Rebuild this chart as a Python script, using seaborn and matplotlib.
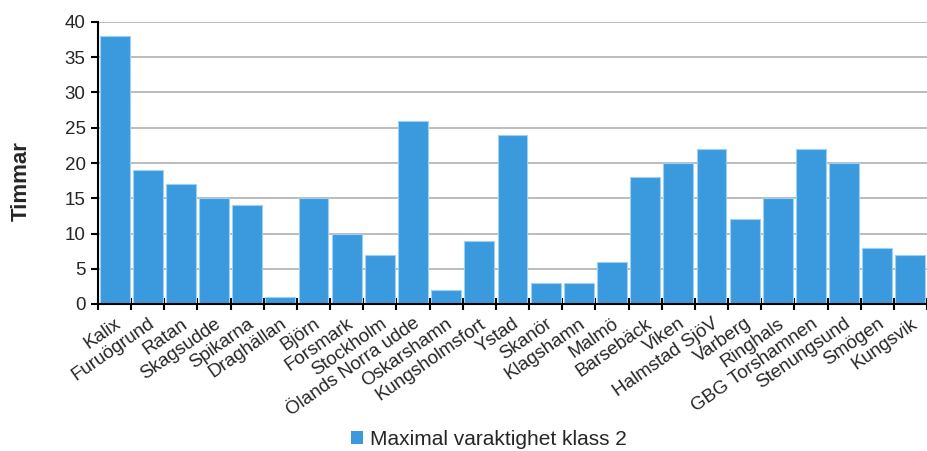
import matplotlib
matplotlib.use("Agg")
import matplotlib.pyplot as plt
import seaborn as sns
import pandas as pd
import numpy as np
from matplotlib.patches import Patch
from matplotlib.ticker import FixedLocator

stations = ["Kalix", "Furuögrund", "Ratan", "Skagsudde", "Spikarna", "Draghällan",
            "Björn", "Forsmark", "Stockholm", "Ölands Norra udde", "Oskarshamn",
            "Kungsholmsfort", "Ystad", "Skanör", "Klagshamn", "Malmö", "Barsebäck",
            "Viken", "Halmstad SjöV", "Varberg", "Ringhals", "GBG Torshamnen",
            "Stenungsund", "Smögen", "Kungsvik"]
hours = [38, 19, 17, 15, 14, 1, 15, 10, 7, 26, 2, 9, 24, 3, 3, 6, 18, 20, 22, 12,
         15, 22, 20, 8, 7]
series_name = "Maximal varaktighet klass 2"
y_ticks = [0, 5, 10, 15, 20, 25, 30, 35, 40]

sns.set_theme(style="white")
plt.rcParams['font.family'] = ['Liberation Sans', 'DejaVu Sans']

df = pd.DataFrame({"station": stations, "hours": hours})
bar_color = "#3A9ADD"

fig = plt.figure(figsize=(9.27, 4.51), dpi=100)
ax = fig.add_axes([98/927, 1 - 304/451, 1 - 98/927, (304 - 22)/451])
sns.barplot(data=df, x="station", y="hours", color=bar_color, width=0.9,
            edgecolor="#9FD0F2", linewidth=0.8, saturation=1, ax=ax, zorder=3)

ax.set_ylim(0, 40)
ax.set_xlim(-0.5, len(stations) - 0.5)
ax.set_yticks(y_ticks)
ax.set_yticklabels([str(t) for t in y_ticks], fontsize=13.5)
ax.yaxis.grid(True, color="#B0B0B0", linewidth=1.2, zorder=0)
ax.set_axisbelow(True)

ax.set_xticks(range(len(stations)))
ax.set_xticklabels(stations, rotation=35, ha="right", rotation_mode="anchor", fontsize=13.5)
ax.tick_params(axis="x", which="major", length=0, pad=8)
ax.xaxis.set_minor_locator(FixedLocator(np.arange(-0.5, len(stations), 1.0)))
ax.tick_params(axis="x", which="minor", direction="inout", length=8, width=1.5, color="black", bottom=True)
ax.tick_params(axis="y", which="major", direction="out", length=5, width=1.5, color="black", left=True, pad=4)

for s in ["top", "right"]:
    ax.spines[s].set_visible(False)
for s in ["left", "bottom"]:
    ax.spines[s].set_color("black")
    ax.spines[s].set_linewidth(1.5)
ax.spines["bottom"].set_zorder(5)

ax.set_xlabel("")
ax.set_ylabel("Timmar", fontsize=16, fontweight="bold")
ax.yaxis.set_label_coords(-0.080, 0.436)

handle = Patch(facecolor=bar_color, edgecolor="none")
fig.legend([handle], [series_name], loc="center", bbox_to_anchor=(0.527, 0.025),
           frameon=False, fontsize=15, handlelength=0.6, handleheight=0.6, handletextpad=0.3)

fig.savefig("out.png", dpi=100)
